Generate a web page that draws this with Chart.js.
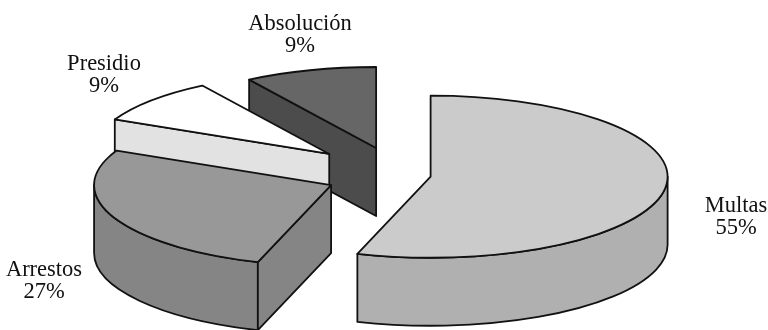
<!DOCTYPE html>
<html>
<head>
<meta charset="utf-8">
<script src="https://cdn.jsdelivr.net/npm/chart.js@4.4.1/dist/chart.umd.min.js"></script>
<style>
  html, body { margin: 0; padding: 0; background: #ffffff; }
  canvas { display: block; }
</style>
</head>
<body>
<canvas id="chart" width="768" height="330"></canvas>
<script>
// Sentence types and their share of cases (%)
const categories = ['Multas', 'Arrestos', 'Presidio', 'Absolución'];
const shares = [55, 27, 9, 9];

// Face colours: top surface and extruded walls of each slice
const topColors = ['#cbcbcb', '#989898', '#ffffff', '#666666'];
const sideColors = ['#b0b0b0', '#858585', '#e2e2e2', '#4c4c4c'];

// Tilted, extruded pie: walls are drawn here, the top face is the arc element itself
const pie3d = {
  id: 'pie3d',
  beforeDatasetsDraw(chart, args, o) {
    const ctx = chart.ctx;
    const arcs = chart.getDatasetMeta(0).data;
    const slices = arcs.map((arc, i) => {
      const p = arc.getProps(['x', 'y', 'startAngle', 'endAngle', 'outerRadius'], true);
      const mid = (p.startAngle + p.endAngle) / 2;
      const rx = p.outerRadius, ry = rx * o.tilt;
      const ax = p.x + o.explode[i] * Math.cos(mid);
      const ay = p.y + o.explode[i] * Math.sin(mid) * o.tilt;
      return { arc, i, p, ax, ay, rx, ry, s: p.startAngle, e: p.endAngle };
    });
    // back slices first
    slices.sort((a, b) => a.ay - b.ay);

    ctx.save();
    ctx.lineJoin = 'round';
    ctx.lineWidth = o.lineWidth;
    ctx.strokeStyle = o.lineColor;
    const D = o.depth;

    for (const sl of slices) {
      const { ax, ay, rx, ry, s, e } = sl;
      const rim = a => [ax + rx * Math.cos(a), ay + ry * Math.sin(a)];
      ctx.fillStyle = sideColors[sl.i];

      // curved outer wall (only the part facing the viewer)
      const a0 = Math.max(s, 0), a1 = Math.min(e, Math.PI);
      if (a1 > a0) {
        ctx.beginPath();
        ctx.ellipse(ax, ay, rx, ry, 0, a0, a1);
        const q = rim(a1);
        ctx.lineTo(q[0], q[1] + D);
        ctx.ellipse(ax, ay + D, rx, ry, 0, a1, a0, true);
        ctx.closePath();
        ctx.fill();
        ctx.stroke();
      }

      // flat cut faces along the radii
      [[s, s - Math.PI / 2], [e, e + Math.PI / 2]].forEach(([a, n]) => {
        if (Math.sin(n) < 0.01) return;
        const q = rim(a);
        ctx.beginPath();
        ctx.moveTo(ax, ay);
        ctx.lineTo(q[0], q[1]);
        ctx.lineTo(q[0], q[1] + D);
        ctx.lineTo(ax, ay + D);
        ctx.closePath();
        ctx.fill();
        ctx.stroke();
      });

      // top face: the arc element squashed into an ellipse
      ctx.save();
      ctx.translate(ax, ay);
      ctx.scale(1, o.tilt);
      ctx.translate(-sl.p.x, -sl.p.y);
      sl.arc.draw(ctx);
      ctx.restore();

      // top outline
      ctx.beginPath();
      ctx.moveTo(ax, ay);
      const q = rim(s);
      ctx.lineTo(q[0], q[1]);
      ctx.ellipse(ax, ay, rx, ry, 0, s, e);
      ctx.closePath();
      ctx.stroke();
    }
    ctx.restore();
    return false;
  },
  afterDraw(chart, args, o) {
    const ctx = chart.ctx;
    ctx.save();
    ctx.font = o.font;
    ctx.fillStyle = o.textColor;
    ctx.textAlign = 'center';
    ctx.textBaseline = 'alphabetic';
    categories.forEach((name, i) => {
      const [x, y] = o.labelAnchors[i];
      ctx.fillText(name, x, y);
      ctx.fillText(shares[i] + '%', x, y + o.lineGap);
    });
    ctx.restore();
  }
};

new Chart(document.getElementById('chart'), {
  type: 'pie',
  data: {
    labels: categories,
    datasets: [{
      data: shares,
      backgroundColor: topColors,
      borderWidth: 0,
      offset: 0,
      radius: 237
    }]
  },
  options: {
    responsive: false,
    animation: false,
    events: [],
    layout: { padding: { left: 30, top: 20, right: 0, bottom: 0 } },
    plugins: {
      legend: { display: false },
      tooltip: { enabled: false },
      pie3d: {
        tilt: 0.342,
        depth: 68,
        explode: [32, 74, 93, 82],
        lineWidth: 1.8,
        lineColor: '#111111',
        font: '22.5px "Liberation Serif", "DejaVu Serif", serif',
        textColor: '#111111',
        lineGap: 22,
        labelAnchors: [[736, 212], [44, 276], [104, 70], [300, 30]]
      }
    }
  },
  plugins: [pie3d]
});
</script>
</body>
</html>
